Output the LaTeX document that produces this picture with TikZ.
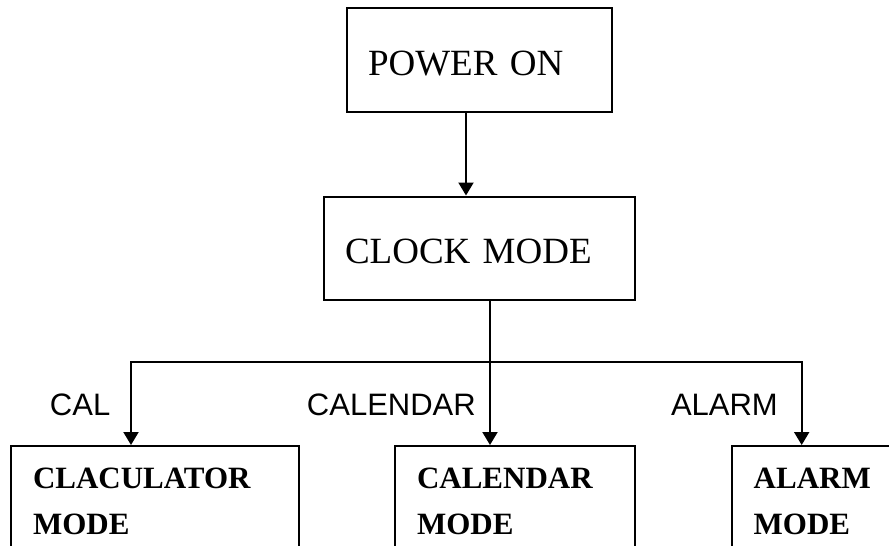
\documentclass[tikz,border=0pt]{standalone}
\usepackage{fontspec}
\setmainfont{Liberation Serif}
\newfontfamily\keyfont{Liberation Sans}
\usetikzlibrary{positioning,arrows.meta}

\tikzset{
	modebox/.style={draw, line width=2pt, anchor=north west, align=left, inner xsep=21pt,
		text height=30pt, text depth=0pt, font=\fontsize{37}{44}\selectfont},
	subbox/.style={draw, line width=2pt, anchor=north west, align=left, inner xsep=22pt,
		inner ysep=22pt, font=\fontsize{31}{46}\selectfont\bfseries},
	keylabel/.style={anchor=base east, inner sep=0pt, font=\keyfont\fontsize{31}{36}\selectfont},
	arr/.style={line width=2pt, -{Triangle[width=15pt,length=13pt]}},
}

\begin{document}
\begin{tikzpicture}[x=1pt, y=-1pt]
	\clip (0,0) rectangle (889,546);
	\node[modebox, text width=223pt, minimum height=104pt] (power) at (346,7) {POWER ON};
	\node[modebox, text width=269pt, minimum height=103pt] (clock) at (323,195.5) {CLOCK MODE};
	\node[subbox, text width=244pt] (calc) at (10,445) {CLACULATOR\\MODE};
	\node[subbox, text width=196pt] (calendar) at (394,445) {CALENDAR\\MODE};
	\node[subbox, text width=156pt] (alarm) at (730.7,445) {ALARM\\MODE};
	\node[keylabel] (calkey) at (110.5,415) {CAL};
	\node[keylabel] (calendarkey) at (476,415) {CALENDAR};
	\node[keylabel] (alarmkey) at (778,415) {ALARM};
	\coordinate (split) at (490,362);
	\coordinate (drop) at (466,0);
	\draw[arr] (power.south -| drop) -- (clock.north -| drop);
	\draw[line width=2pt] (clock.south -| split) -- (split);
	\draw[arr] (split) -- (calendar.north -| split);
	\draw[arr] (split) -| ([xshift=-24pt]calc.north);
	\draw[arr] (split) -| ([xshift=71pt]alarm.north west);
\end{tikzpicture}
\end{document}
